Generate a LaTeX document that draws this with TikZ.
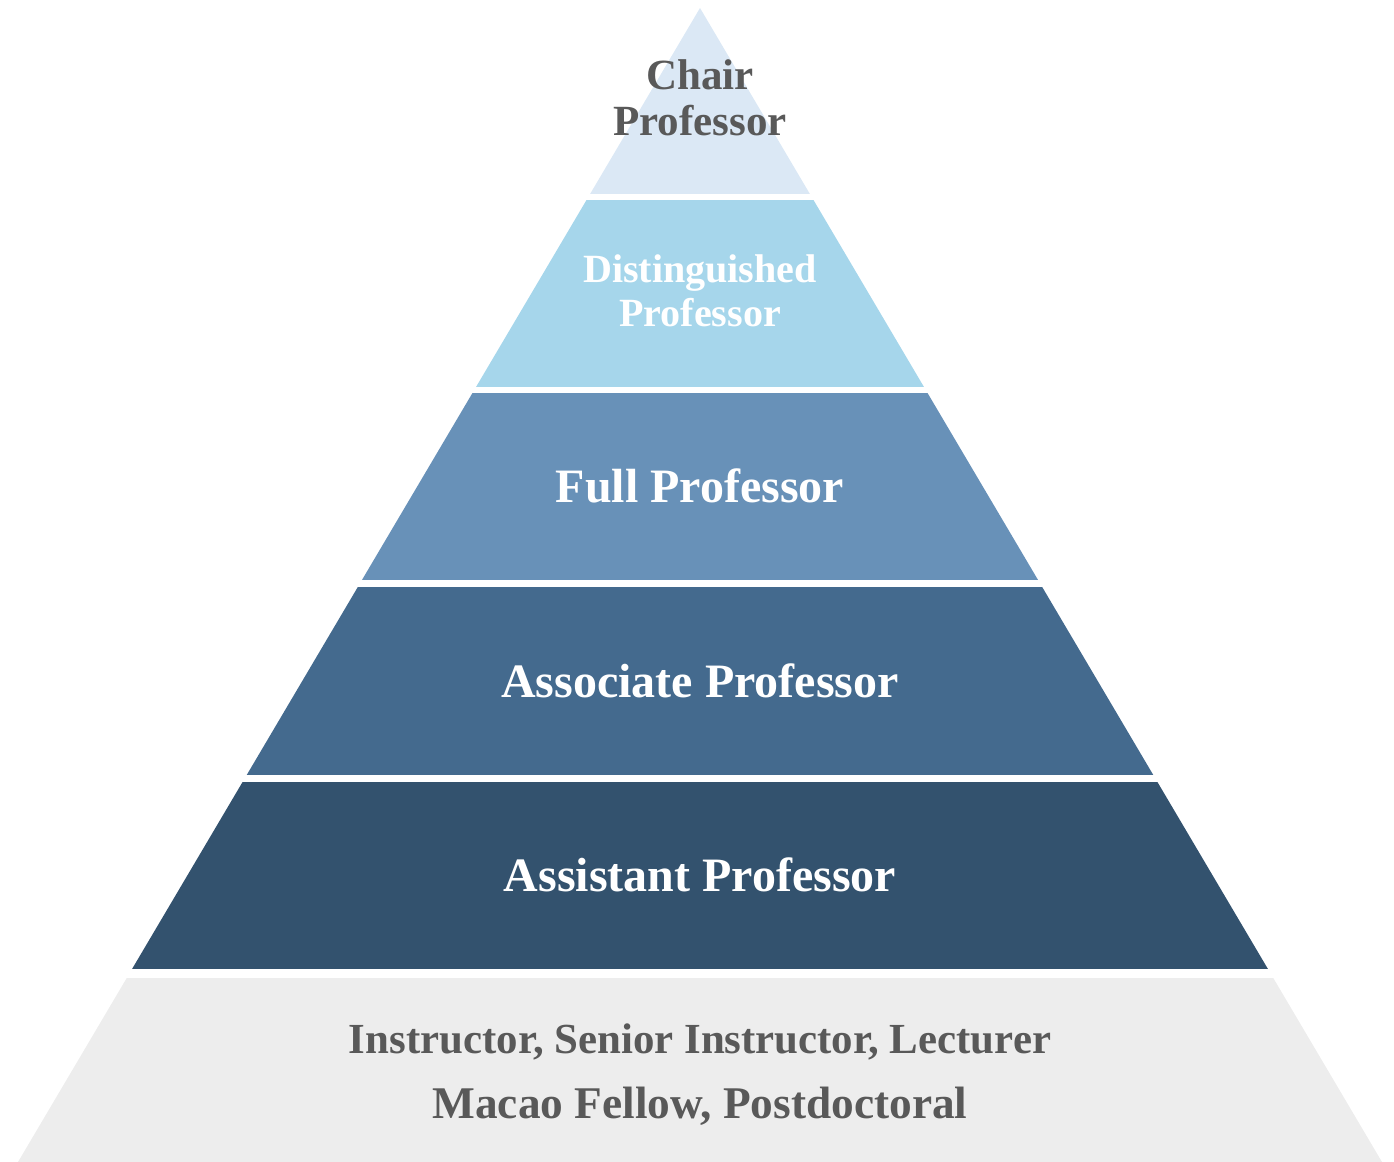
\documentclass[tikz,border=0pt]{standalone}
\usepackage{fontspec}
\setmainfont{Liberation Serif}
\usetikzlibrary{positioning}
\definecolor{capa1}{RGB}{219,232,245}
\definecolor{capa2}{RGB}{166,214,235}
\definecolor{capa3}{RGB}{104,145,184}
\definecolor{capa4}{RGB}{68,106,142}
\definecolor{capa5}{RGB}{51,82,110}
\definecolor{capa6}{RGB}{237,237,237}
\definecolor{gris}{RGB}{89,89,89}
\tikzset{
    rotulo/.style={anchor=base, inner sep=0pt, text=white,
        font=\bfseries\fontsize{27.3}{30}\selectfont},
    rotulogris/.style={rotulo, text=gris},
    chico/.style={font=\bfseries\fontsize{24.5}{26}\selectfont},
    mini/.style={font=\bfseries\fontsize{22.8}{24}\selectfont}}
\begin{document}
\begin{tikzpicture}[x=0.02cm, y=-0.02cm]
    \useasboundingbox (0,0) rectangle (1394,1162);
    % Capas
    \begin{scope}
        \clip (700,8) -- (18,1162) -- (1382,1162) -- cycle;
        \foreach \ya/\yb/\col in {8/194/capa1, 200/387/capa2, 393/580/capa3,
            587/775/capa4, 782/969/capa5, 978/1162/capa6}
            \fill[\col] (0,\ya) rectangle (1394,\yb);
    \end{scope}
    % Rotulos
    \node (chair1) [rotulogris, chico] at (700,90) {Chair};
    \node (chair2) [rotulogris, chico] at (700,136) {Professor};
    \node (dist1) [rotulo, mini] at (700,283) {Distinguished};
    \node (dist2) [rotulo, mini] at (700,327) {Professor};
    \node (full) [rotulo] at (700,502) {Full Professor};
    \node (assoc) [rotulo] at (700,697) {Associate Professor};
    \node (assist) [rotulo] at (700,891) {Assistant Professor};
    \node (inst) [rotulogris, font=\bfseries\fontsize{24.4}{26}\selectfont]
        at (700,1053) {Instructor, Senior Instructor, Lecturer};
    \node (macao) [rotulogris, font=\bfseries\fontsize{25.8}{28}\selectfont]
        at (700,1118) {Macao Fellow, Postdoctoral};
\end{tikzpicture}
\end{document}
